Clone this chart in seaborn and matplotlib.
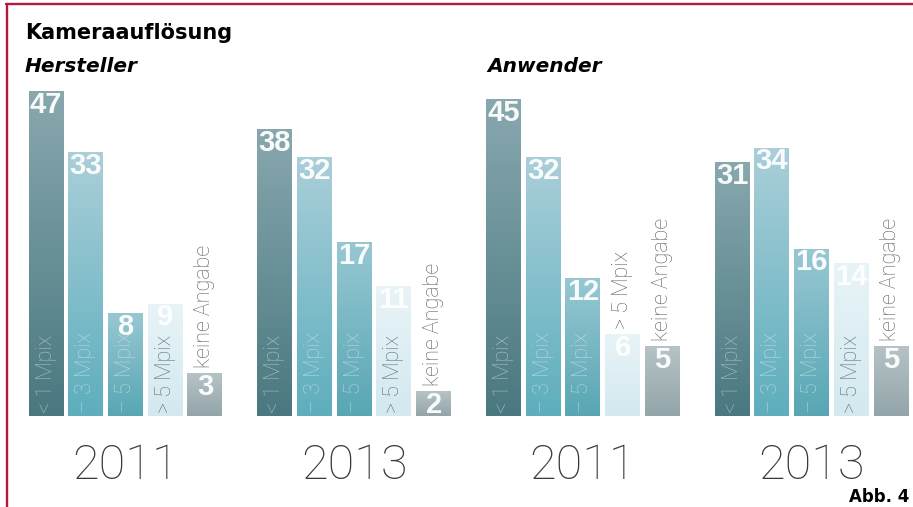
import numpy as np
import pandas as pd
import matplotlib
matplotlib.use("Agg")
import matplotlib.pyplot as plt
from matplotlib.colors import LinearSegmentedColormap
from matplotlib.lines import Line2D
import seaborn as sns

# ---- data -----------------------------------------------------------------
panels = ["Hersteller", "Hersteller", "Anwender", "Anwender"]
years = ["2011", "2013", "2011", "2013"]
categories = ["< 1 Mpix", "– 3 Mpix", "– 5 Mpix", "> 5 Mpix", "keine Angabe"]
hersteller_2011 = [47, 33, 8, 9, 3]
hersteller_2013 = [38, 32, 17, 11, 2]
anwender_2011 = [45, 32, 12, 6, 5]
anwender_2013 = [31, 34, 16, 14, 5]

series = [hersteller_2011, hersteller_2013, anwender_2011, anwender_2013]
groups = [f"{p} {y}" for p, y in zip(panels, years)]
rows = []
for g, vals in zip(groups, series):
    for c, v in zip(categories, vals):
        rows.append({"gruppe": g, "kategorie": c, "anteil": v})
df = pd.DataFrame(rows)

# ---- styling --------------------------------------------------------------
top_colors = ["#88a8ae", "#aacfd9", "#97c8d2", "#e8f4f7", "#b6c3c6"]
bottom_colors = ["#4a7880", "#5eaebd", "#58a6b4", "#d3e9ef", "#93a5a9"]
inside_text = [(1, 1, 1, 0.5), (1, 1, 1, 0.5), (1, 1, 1, 0.5), "#5f7378", "#5f7378"]
outside_text = "#5f5f5f"
border_red = "#b5173f"

sns.set_theme(style="white")
plt.rcParams["font.family"] = ["DejaVu Sans"]

W, H = 913, 507
fig = plt.figure(figsize=(W / 100, H / 100), dpi=100)
fig.patch.set_facecolor("white")

base_px, top_px = 416, 85
ax = fig.add_axes([0, (H - base_px) / H, 1, (base_px - top_px) / H])
ax.set_facecolor("none")

sns.barplot(
    data=df, x="gruppe", y="anteil", hue="kategorie",
    order=groups, hue_order=categories, palette=bottom_colors,
    width=0.868, gap=0.12, errorbar=None, legend=False,
    linewidth=0, edgecolor="none", saturation=1, ax=ax,
)

# compressive value axis so small shares stay legible
ax.set_yscale("function", functions=(lambda y: np.sqrt(np.clip(y, 0, None)),
                                     lambda y: np.square(y)))
ax.set_ylim(0.94, 48.67)
ax.set_xlim(-0.5488, 3.4434)

for s in ax.spines.values():
    s.set_visible(False)
ax.set_yticks([])
ax.set_ylabel("")
ax.set_xlabel("")
ax.set_xticks(range(len(groups)))
ax.set_xticklabels(years, fontfamily="Roboto", fontweight="light",
                   fontsize=35, color="#3a3a3a")
ax.tick_params(axis="x", length=0, pad=19)

fig.canvas.draw()
renderer = fig.canvas.get_renderer()
to_axes = ax.transAxes.inverted()
grad = np.linspace(0, 1, 256).reshape(-1, 1)

label_style = dict(rotation=90, ha="center", va="bottom", fontsize=15.5,
                   fontfamily="Roboto", fontweight="light", zorder=3)

for ci, container in enumerate(ax.containers):
    cmap = LinearSegmentedColormap.from_list(f"g{ci}", [bottom_colors[ci], top_colors[ci]])
    for patch in container:
        x0 = patch.get_x()
        w = patch.get_width()
        v = patch.get_height()
        xc = x0 + w / 2
        d0 = ax.transData.transform((x0, v))
        d1 = ax.transData.transform((x0 + w, v))
        a0 = to_axes.transform(d0)
        a1 = to_axes.transform(d1)
        ax.imshow(grad, cmap=cmap, origin="lower", aspect="auto",
                  extent=[a0[0], a1[0], 0, a0[1]], transform=ax.transAxes,
                  interpolation="bilinear", zorder=2)

        # value on top of the bar
        ax.annotate(f"{v:g}", xy=(xc, v), xycoords="data",
                    xytext=(0, 0.5), textcoords="offset points",
                    ha="center", va="top", fontsize=21, fontweight="bold",
                    fontfamily="Liberation Sans", color=(1, 1, 1, 0.95), zorder=4)

        # category name, inside the bar if it fits, else above it
        bar_px = d0[1] - ax.transAxes.transform((0, 0))[1]
        t = ax.annotate(categories[ci], xy=(xc, 0), xycoords=("data", "axes fraction"),
                        xytext=(0, 2.5), textcoords="offset points",
                        color=inside_text[ci], **label_style)
        length = t.get_window_extent(renderer).height
        if ci == len(categories) - 1 or length + 8 > bar_px:
            t.remove()
            ax.annotate(categories[ci], xy=(xc, v), xycoords="data",
                        xytext=(0, 4), textcoords="offset points",
                        color=outside_text, **label_style)

ax.set_ylim(0.94, 48.67)
ax.set_xlim(-0.5488, 3.4434)

# ---- headings and frame ---------------------------------------------------
fig.text(25 / W, 1 - 39 / H, "Kameraauflösung", fontsize=15, fontweight="bold",
         fontfamily="DejaVu Sans", color="black", va="baseline", ha="left")
for label, xpx in (("Hersteller", 25), ("Anwender", 487)):
    fig.text(xpx / W, 1 - 72 / H, label, fontsize=14.5, fontweight="bold",
             fontstyle="italic", fontfamily="DejaVu Sans", color="black",
             va="baseline", ha="left")
fig.text(909 / W, 1 - 502 / H, "Abb. 4", fontsize=12, fontweight="bold",
         fontfamily="DejaVu Sans", color="black", va="baseline", ha="right")

fig.add_artist(Line2D([6 / W, 1], [1 - 3.5 / H, 1 - 3.5 / H], color=border_red,
                      lw=1.7, transform=fig.transFigure))
fig.add_artist(Line2D([6.5 / W, 6.5 / W], [0, 1 - 3.5 / H], color=border_red,
                      lw=1.7, transform=fig.transFigure))

fig.savefig("out.png", dpi=100, facecolor="white")
